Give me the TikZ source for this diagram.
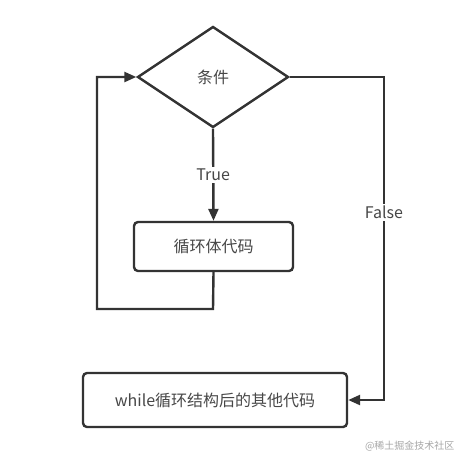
\documentclass[tikz,border=0pt]{standalone}
\usepackage{fontspec}
\setmainfont{Noto Sans CJK SC}
\usetikzlibrary{shapes.geometric,arrows.meta}
\definecolor{ln}{HTML}{333333}
\definecolor{tx}{HTML}{474747}
\begin{document}
\begin{tikzpicture}[x=1pt,y=-1pt,
  line/.style={draw=ln,line width=2.4pt},
  arr/.style={line,-{Triangle[length=12pt,width=10pt]}},
  txt/.style={text=tx,font=\fontsize{16}{18}\selectfont},
  box/.style={draw=ln,line width=2.4pt,rounded corners=4pt,txt,inner sep=0pt},
  lbl/.style={txt,fill=white,inner sep=2pt}]
\useasboundingbox (0,0) rectangle (470,464);
\node[draw=ln,line width=2.4pt,diamond,aspect=1.5,minimum width=151pt,minimum height=101pt,inner sep=0pt,txt] (cond) at (213,77) {条件};
\node[box,minimum width=159pt,minimum height=49pt] (body) at (213.5,246.5) {循环体代码};
\node[box,minimum width=264pt,minimum height=54pt] (after) at (215,400) {while循环结构后的其他代码};
\coordinate (bl) at (213,309);
\coordinate (ll) at (97,309);
\coordinate (lt) at (97,77);
\coordinate (rt) at (384,77);
\coordinate (rb) at (384,400);
\draw[arr] (cond.south) -- node[lbl,pos=0.5] (t) {True} (body.north);
\draw[arr] (body.south) -- (bl) -- (ll) -- (lt) -- (cond.west);
\draw[arr] (cond.east) -- (rt) -- node[lbl,pos=0.42] (f) {False} (rb) -- (after.east);
\node[text=black!35,font=\fontsize{10}{12}\selectfont,anchor=east] (wm) at (458,446) {@稀土掘金技术社区};
\end{tikzpicture}
\end{document}
